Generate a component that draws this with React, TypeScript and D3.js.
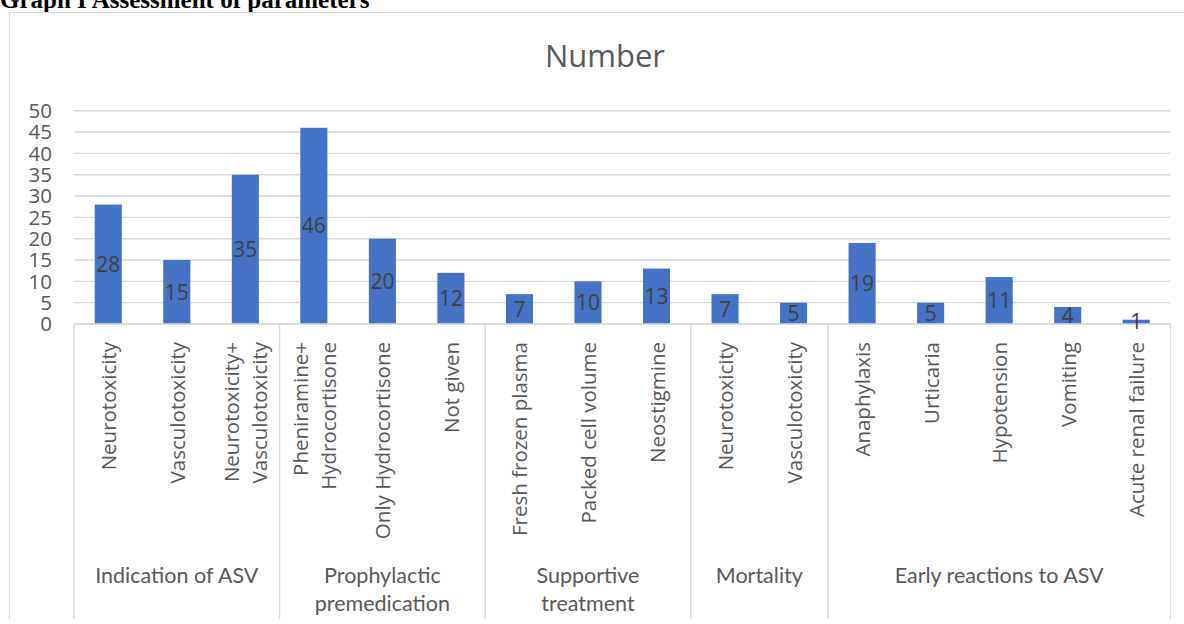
import React from "react";
import * as d3 from "d3";

const groups = [
  "Indication of ASV",
  "Prophylactic premedication",
  "Supportive treatment",
  "Mortality",
  "Early reactions to ASV",
];
const groupLines: string[][] = [
  ["Indication of ASV"],
  ["Prophylactic", "premedication"],
  ["Supportive", "treatment"],
  ["Mortality"],
  ["Early reactions to ASV"],
];
const categories = [
  "Neurotoxicity",
  "Vasculotoxicity",
  "Neurotoxicity+ Vasculotoxicity",
  "Pheniramine+ Hydrocortisone",
  "Only Hydrocortisone",
  "Not given",
  "Fresh frozen plasma",
  "Packed cell volume",
  "Neostigmine",
  "Neurotoxicity",
  "Vasculotoxicity",
  "Anaphylaxis",
  "Urticaria",
  "Hypotension",
  "Vomiting",
  "Acute renal failure",
];
const categoryLines: string[][] = [
  ["Neurotoxicity"],
  ["Vasculotoxicity"],
  ["Neurotoxicity+", "Vasculotoxicity"],
  ["Pheniramine+", "Hydrocortisone"],
  ["Only Hydrocortisone"],
  ["Not given"],
  ["Fresh frozen plasma"],
  ["Packed cell volume"],
  ["Neostigmine"],
  ["Neurotoxicity"],
  ["Vasculotoxicity"],
  ["Anaphylaxis"],
  ["Urticaria"],
  ["Hypotension"],
  ["Vomiting"],
  ["Acute renal failure"],
];
const groupOf = [0, 0, 0, 1, 1, 1, 2, 2, 2, 3, 3, 4, 4, 4, 4, 4];
const values = [28, 15, 35, 46, 20, 12, 7, 10, 13, 7, 5, 19, 5, 11, 4, 1];
const yTicks = [0, 5, 10, 15, 20, 25, 30, 35, 40, 45, 50];
const chartTitle = "Number";
const docTitle = "Graph I Assessment of parameters";

const W = 1184;
const H = 624;
const plotLeft = 74;
const plotRight = 1170.5;
const plotTop = 110.7;
const plotBottom = 324;
const axisBottom = 619;

const SANS = "'Open Sans', 'Noto Sans', sans-serif";
const GROUP_FONT = "Lato, 'Open Sans', sans-serif";

export default function App() {
  const x = d3
    .scaleBand<number>()
    .domain(categories.map((_, i) => i))
    .range([plotLeft, plotRight])
    .paddingInner(0)
    .paddingOuter(0);
  const y = d3.scaleLinear().domain([0, 50]).range([plotBottom, plotTop]);
  const step = x.step();
  const barW = step * 0.395;

  const bounds: { start: number; end: number }[] = groups.map((_, g) => {
    const idx = groupOf.map((v, i) => (v === g ? i : -1)).filter((i) => i >= 0);
    return {
      start: x(idx[0]) as number,
      end: (x(idx[idx.length - 1]) as number) + step,
    };
  });

  const gridColor = "#d9d9d9";

  return (
    <svg
      width={W}
      height={H}
      style={{ position: "absolute", left: 0, top: 0, background: "#fff" }}
    >
      <rect x={0} y={0} width={W} height={H} fill="#fff" />
      <text
        x={0}
        y={8}
        fontFamily="'Liberation Serif', 'Times New Roman', serif"
        fontWeight="bold"
        fontSize={25}
        fill="#000"
      >
        {docTitle}
      </text>
      <line x1={9.5} x2={W} y1={12.5} y2={12.5} stroke={gridColor} strokeWidth={1.2} />
      <line x1={9.5} x2={9.5} y1={12.5} y2={axisBottom} stroke={gridColor} strokeWidth={1.2} />

      <text
        x={605}
        y={67}
        textAnchor="middle"
        fontFamily={SANS}
        fontSize={31}
        fill="#595959"
      >
        {chartTitle}
      </text>

      {yTicks.map((t) => (
        <line
          key={"g" + t}
          x1={plotLeft}
          x2={plotRight}
          y1={y(t)}
          y2={y(t)}
          stroke={gridColor}
          strokeWidth={1.4}
        />
      ))}
      {yTicks.map((t) => (
        <text
          key={"t" + t}
          x={52}
          y={y(t)}
          dy="0.36em"
          textAnchor="end"
          fontFamily={SANS}
          fontSize={20.5}
          fill="#595959"
        >
          {t}
        </text>
      ))}

      {values.map((v, i) => {
        const cx = (x(i) as number) + step / 2;
        return (
          <rect
            key={"b" + i}
            x={cx - barW / 2}
            y={y(v)}
            width={barW}
            height={y(0) - y(v)}
            fill="#4472c4"
          />
        );
      })}

      <line x1={plotLeft} x2={plotRight} y1={plotBottom} y2={plotBottom} stroke={gridColor} strokeWidth={1.4} />
      {bounds.map((b, g) => (
        <line
          key={"s" + g}
          x1={b.start}
          x2={b.start}
          y1={plotBottom}
          y2={axisBottom}
          stroke={gridColor}
          strokeWidth={1.4}
        />
      ))}
      <line x1={plotRight} x2={plotRight} y1={plotBottom} y2={axisBottom} stroke={gridColor} strokeWidth={1.4} />

      {values.map((v, i) => {
        const cx = (x(i) as number) + step / 2;
        const cy = (y(v) + y(0)) / 2;
        return (
          <text
            key={"l" + i}
            x={cx}
            y={cy}
            dy="0.36em"
            textAnchor="middle"
            fontFamily={SANS}
            fontSize={21}
            fill="#404040"
          >
            {v}
          </text>
        );
      })}

      {categoryLines.map((lines, i) => {
        const cx = (x(i) as number) + step / 2;
        const lh = 28;
        const n = lines.length;
        return (
          <g key={"c" + i}>
            {lines.map((ln, k) => {
              const off = (k - (n - 1) / 2) * lh;
              const bx = cx + off + 8;
              const by = 342;
              return (
                <text
                  key={k}
                  transform={`translate(${bx},${by}) rotate(-90)`}
                  textAnchor="end"
                  fontFamily={SANS}
                  fontSize={20.5}
                  fill="#595959"
                >
                  {ln}
                </text>
              );
            })}
          </g>
        );
      })}

      {groupLines.map((lines, g) => {
        const cx = (bounds[g].start + bounds[g].end) / 2;
        return (
          <text
            key={"gl" + g}
            textAnchor="middle"
            fontFamily={GROUP_FONT}
            fontSize={21.5}
            fill="#595959"
          >
            {lines.map((ln, k) => (
              <tspan key={k} x={cx} y={583 + k * 28}>
                {ln}
              </tspan>
            ))}
          </text>
        );
      })}
    </svg>
  );
}
